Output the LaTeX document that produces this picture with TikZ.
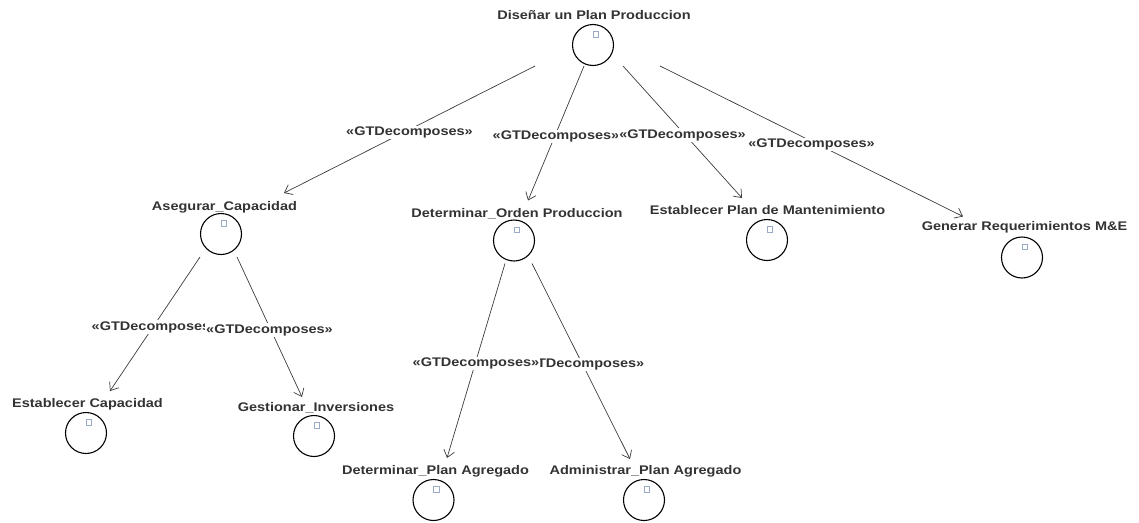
\documentclass[tikz,border=0pt]{standalone}
\usepackage{fontspec}
\newfontfamily\lblfont{Liberation Sans}[FakeStretch=1.16]
\usetikzlibrary{arrows.meta}
\definecolor{txtc}{HTML}{333333}
\definecolor{edgec}{HTML}{3C3C3C}
\definecolor{markc}{HTML}{9AAAC4}
\begin{document}
\begin{tikzpicture}[x=1pt,y=-1pt,
  goal/.style={circle, draw=black, line width=1.1pt, minimum size=41pt, inner sep=0pt},
  goallbl/.style={font=\lblfont\bfseries\fontsize{12.5}{14}\selectfont, text=txtc, inner sep=0pt, anchor=base},
  goalmark/.style={draw=markc, fill=white, line width=0.8pt, minimum size=5.5pt, inner sep=0pt},
  dec/.style={draw=edgec, line width=0.7pt, -{Straight Barb[length=7pt,width=11pt]}},
  declbl/.style={font=\lblfont\bfseries\fontsize{12.5}{14}\selectfont, text=txtc, fill=white, inner sep=1pt, yshift=-3pt}
]
\useasboundingbox (0,0) rectangle (1139,522);

% goal nodes: label, circle and small marker square
\newcommand{\goalnode}[6]{%
  \node[goallbl] (#1-l) at (#3,#4+4.5) {#2};
  \node[goal] (#1) at (#5,#6) {};
  \node[goalmark] (#1-m) at ([shift={(3,-10.5)}]#1.center) {};
}
\goalnode{top}{Diseñar un Plan Produccion}{594}{14.5}{593}{45}
\goalnode{asg}{Asegurar\_Capacidad}{224.5}{206}{221}{234}
\goalnode{dop}{Determinar\_Orden Produccion}{517}{212.5}{514}{240.5}
\goalnode{epm}{Establecer Plan de Mantenimiento}{767.5}{210}{767}{240}
\goalnode{gen}{Generar Requerimientos M\&E}{1024.5}{226}{1022}{257.5}
\goalnode{ecap}{Establecer Capacidad}{87.5}{403}{86}{433}
\goalnode{gin}{Gestionar\_Inversiones}{316}{407}{314}{436}
\goalnode{dpa}{Determinar\_Plan Agregado}{435.5}{470}{433.5}{500}
\goalnode{apa}{Administrar\_Plan Agregado}{645.5}{470}{644}{500}

% decomposition links
\draw[dec] ([shift={(-58,21)}]top.center) -- node[declbl, midway] (e1) {«GTDecomposes»} ([shift={(63,-41)}]asg.center);
\draw[dec] ([shift={(-9,21)}]top.center) -- node[declbl, midway] (e2) {«GTDecomposes»} ([shift={(14,-40)}]dop.center);
\draw[dec] ([shift={(30,21)}]top.center) -- node[declbl, midway] (e3) {«GTDecomposes»} ([shift={(-25,-42)}]epm.center);
\draw[dec] ([shift={(67,21)}]top.center) -- node[declbl, midway] (e4) {«GTDecomposes»} ([shift={(-59,-41)}]gen.center);
\draw[dec] ([shift={(-21,23)}]asg.center) -- node[declbl, midway] (e5) {«GTDecomposes»} ([shift={(24,-42)}]ecap.center);
\draw[dec] ([shift={(16,23)}]asg.center) -- node[declbl, midway] (e6) {«GTDecomposes»} ([shift={(-12,-39)}]gin.center);
\draw[dec] ([shift={(18,23)}]dop.center) -- node[declbl, midway] (e8) {«GTDecomposes»} ([shift={(-14,-41)}]apa.center);
\draw[dec] ([shift={(-9,23)}]dop.center) -- node[declbl, midway] (e7) {«GTDecomposes»} ([shift={(13.5,-42)}]dpa.center);
\end{tikzpicture}
\end{document}
